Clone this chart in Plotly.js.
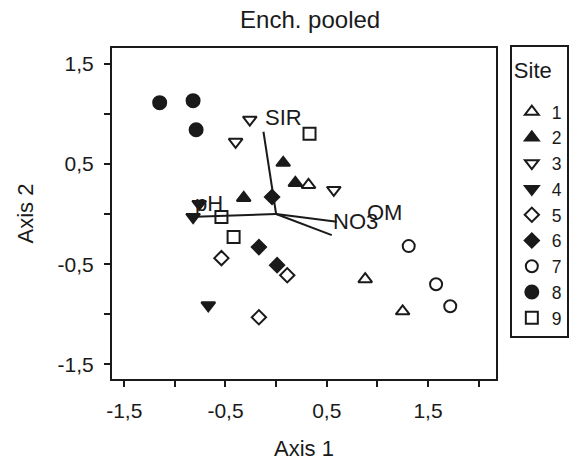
<!DOCTYPE html>
<html>
<head>
<meta charset="utf-8">
<script src="https://cdn.plot.ly/plotly-3.0.1.min.js"></script>
<style>
html,body{margin:0;padding:0;background:#fff;}
#chart{width:569px;height:461px;}
</style>
</head>
<body>
<div id="chart"></div>
<script>
// Site scores (Axis 1, Axis 2)
const siteNames = ['1','2','3','4','5','6','7','8','9'];
const site1x = [0.32, 0.88, 1.25];   const site1y = [0.29, -0.65, -0.97];
const site2x = [0.07, 0.19, -0.32];  const site2y = [0.51, 0.31, 0.16];
const site3x = [-0.26, -0.40, 0.57]; const site3y = [0.94, 0.72, 0.24];
const site4x = [-0.82, -0.67, -0.76]; const site4y = [-0.03, -0.91, 0.10];
const site5x = [-0.54, 0.11, -0.17]; const site5y = [-0.44, -0.61, -1.03];
const site6x = [-0.17, 0.01, -0.04]; const site6y = [-0.33, -0.51, 0.17];
const site7x = [1.31, 1.58, 1.72];   const site7y = [-0.32, -0.70, -0.92];
const site8x = [-1.15, -0.82, -0.79]; const site8y = [1.11, 1.13, 0.84];
const site9x = [0.33, -0.54, -0.42]; const site9y = [0.80, -0.03, -0.23];

// Environmental vectors (endpoints from origin)
const vecNames = ['SIR', 'pH', 'NO3', 'OM'];
const vecX = [-0.125, -0.87, 0.60, 0.55];
const vecY = [0.82, -0.03, -0.077, -0.21];

// Axis ticks
const tickVals = [-1.5, -1, -0.5, 0, 0.5, 1, 1.5, 2];
const tickText = ['-1,5', '', '-0,5', '', '0,5', '', '1,5', ''];
const yTickVals = [-1.5, -1, -0.5, 0, 0.5, 1, 1.5];
const yTickText = ['-1,5', '', '-0,5', '', '0,5', '', '1,5'];

const siteX = [site1x, site2x, site3x, site4x, site5x, site6x, site7x, site8x, site9x];
const siteY = [site1y, site2y, site3y, site4y, site5y, site6y, site7y, site8y, site9y];
const symbols = ['triangle-up-open', 'triangle-up', 'triangle-down-open', 'triangle-down',
                 'diamond-open', 'diamond', 'circle-open', 'circle', 'square-open'];
const sizes = [12, 12, 12, 12, 11, 11, 12, 13, 12];

const FONT = 'Liberation Sans, Arial, sans-serif';
const INK = '#1a1a1a';

const traces = [];
vecNames.forEach((n, i) => {
  traces.push({
    x: [0, vecX[i]], y: [0, vecY[i]], mode: 'lines', type: 'scatter',
    line: {color: INK, width: 2}, showlegend: false, hoverinfo: 'skip'
  });
});
siteNames.forEach((n, i) => {
  traces.push({
    x: siteX[i], y: siteY[i], name: n, mode: 'markers', type: 'scatter',
    marker: {symbol: symbols[i], size: sizes[i], color: INK,
             line: {color: INK, width: 2}}
  });
});

const labelShift = {
  'SIR': [20, 14], 'pH': [21, 14], 'NO3': [19, 0], 'OM': [53, 23]
};
const annotations = vecNames.map((n, i) => ({
  x: vecX[i], y: vecY[i], xref: 'x', yref: 'y', showarrow: false,
  text: n, xshift: labelShift[n][0], yshift: labelShift[n][1],
  font: {family: FONT, size: 22, color: INK}
}));

const layout = {
  width: 569, height: 461,
  margin: {l: 112, r: 73, t: 48, b: 82, autoexpand: false},
  paper_bgcolor: '#fff', plot_bgcolor: '#fff',
  font: {family: FONT, color: INK, size: 21},
  title: {text: 'Ench. pooled', x: 0.545, xanchor: 'center', y: 0.957, yanchor: 'middle',
          font: {family: FONT, size: 24, color: INK}},
  xaxis: {
    range: [-1.621, 2.172], tickvals: tickVals, ticktext: tickText,
    showgrid: false, zeroline: false, showline: true, mirror: true,
    linecolor: INK, linewidth: 2, ticks: 'outside', ticklen: 6, tickwidth: 2, tickcolor: INK,
    tickfont: {family: FONT, size: 21, color: INK}, ticklabelstandoff: 6,
    title: {text: 'Axis 1', font: {family: FONT, size: 22, color: INK}, standoff: 20}
  },
  yaxis: {
    range: [-1.645, 1.655], tickvals: yTickVals, ticktext: yTickText,
    showgrid: false, zeroline: false, showline: true, mirror: true,
    linecolor: INK, linewidth: 2, ticks: 'outside', ticklen: 6, tickwidth: 2, tickcolor: INK,
    tickfont: {family: FONT, size: 21, color: INK}, ticklabelstandoff: 6,
    title: {text: 'Axis 2', font: {family: FONT, size: 22, color: INK}, standoff: 18}
  },
  legend: {
    x: 1.036, xanchor: 'left', y: 1.009, yanchor: 'top', maxheight: 1,
    bordercolor: INK, borderwidth: 2, bgcolor: '#fff',
    title: {text: ' <br><span style="font-size:22px">Site</span><br> ', font: {family: FONT, size: 12, color: INK}},
    font: {family: FONT, size: 17.5, color: INK},
    tracegroupgap: 0, itemwidth: 30
  },
  annotations: annotations,
  showlegend: true
};

Plotly.newPlot('chart', traces, layout, {displayModeBar: false, staticPlot: true});
</script>
</body>
</html>
